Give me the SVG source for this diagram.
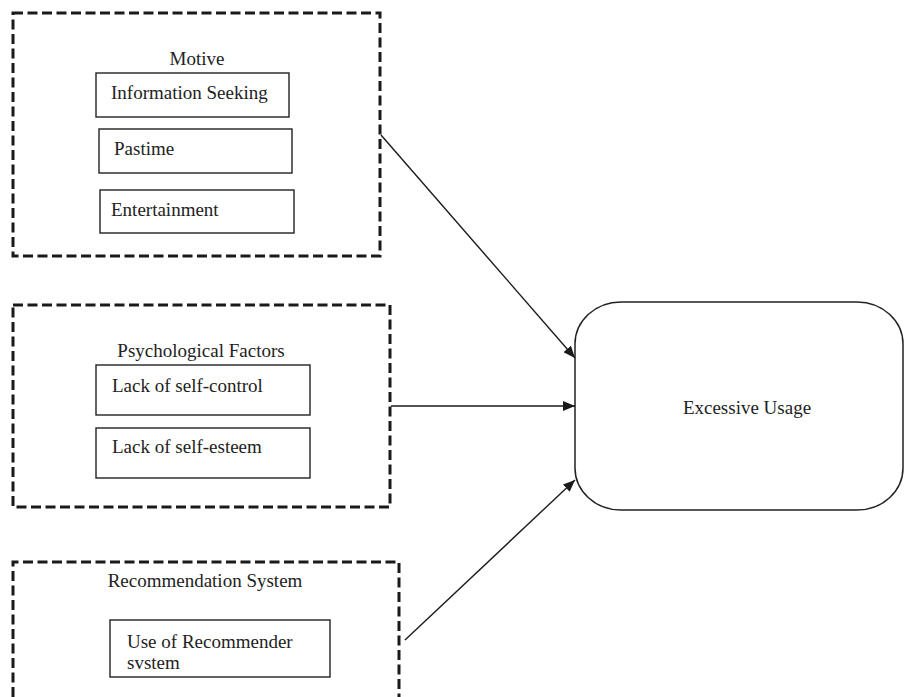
<svg xmlns="http://www.w3.org/2000/svg" width="905" height="697" viewBox="0 0 905 697">
<style>
.grp{fill:none;stroke:#1a1a1a;stroke-width:3;stroke-dasharray:10 4.5}
.box{fill:#fff;stroke:#222;stroke-width:1.4}
.t{font-family:"Liberation Serif","Times New Roman",serif;font-size:19px;fill:#222}
.c{stroke:#1a1a1a;stroke-width:1.4;fill:none;marker-end:url(#ah)}
</style>
<defs>
<marker id="ah" viewBox="0 0 12 10" refX="12" refY="5" markerWidth="12" markerHeight="10" markerUnits="userSpaceOnUse" orient="auto">
<path d="M0,0 L12,5 L0,10 z" fill="#1a1a1a"/>
</marker>
</defs>
<rect width="905" height="697" fill="#fff"/>
<g id="motive">
<rect class="grp" x="13" y="13" width="367" height="243"/>
<text class="t" x="197" y="65" text-anchor="middle">Motive</text>
<rect class="box" x="96" y="73" width="193" height="44"/>
<text class="t" x="111" y="99">Information Seeking</text>
<rect class="box" x="99" y="129" width="193" height="44"/>
<text class="t" x="114" y="155">Pastime</text>
<rect class="box" x="100" y="190" width="194" height="43"/>
<text class="t" x="111" y="216">Entertainment</text>
</g>
<g id="psych">
<rect class="grp" x="13" y="305" width="377" height="202"/>
<text class="t" x="201" y="357" text-anchor="middle">Psychological Factors</text>
<rect class="box" x="96" y="365" width="214" height="50"/>
<text class="t" x="112" y="392">Lack of self-control</text>
<rect class="box" x="96" y="428" width="214" height="50"/>
<text class="t" x="112" y="453">Lack of self-esteem</text>
</g>
<g id="recommendation">
<path class="grp" d="M13,697 L13,562 L399,562 L399,697"/>
<text class="t" x="205" y="587" text-anchor="middle">Recommendation System</text>
<rect class="box" x="110" y="620" width="220" height="57"/>
<text class="t" x="127" y="648">Use of Recommender</text>
<text class="t" x="127" y="669">svstem</text>
</g>
<g id="excessive">
<rect x="575" y="302" width="328" height="208" rx="46" ry="42" fill="#fff" stroke="#222" stroke-width="1.5"/>
<text class="t" x="747" y="414" text-anchor="middle">Excessive Usage</text>
</g>
<g id="connectors">
<line class="c" x1="381" y1="135" x2="575" y2="358"/>
<line class="c" x1="391" y1="406" x2="575" y2="406"/>
<line class="c" x1="405" y1="640" x2="575" y2="480"/>
</g>
</svg>
